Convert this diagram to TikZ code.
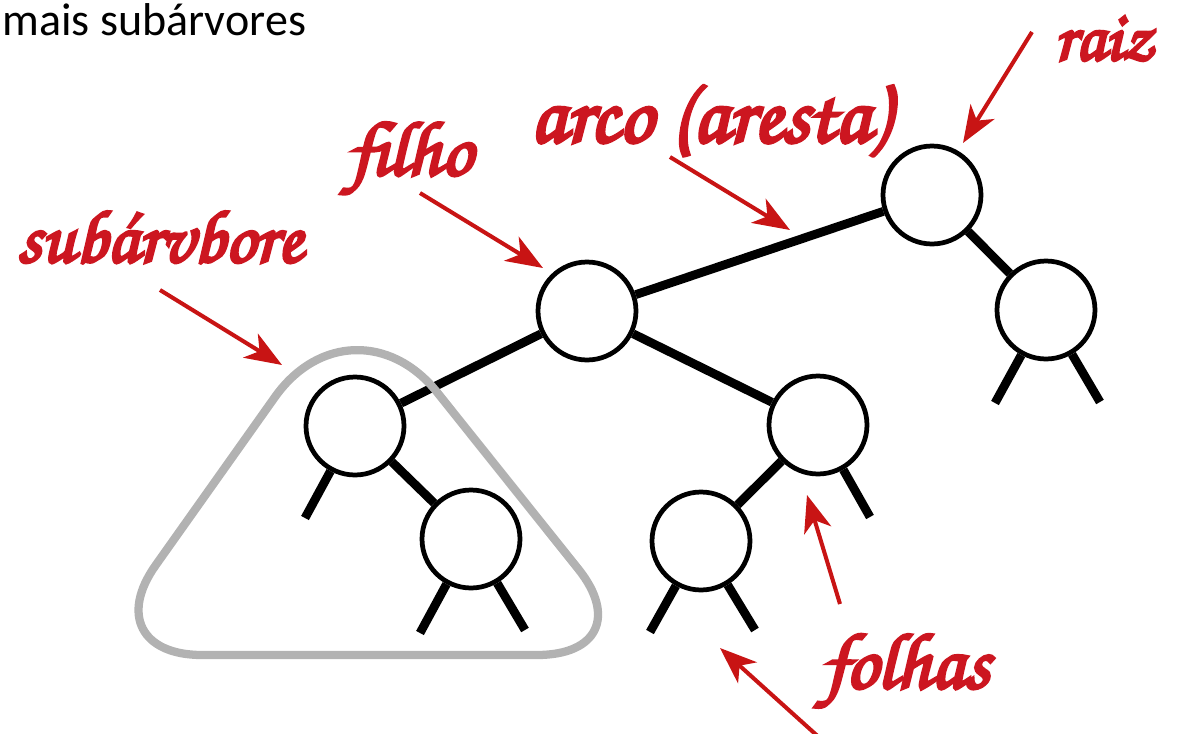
\documentclass[tikz,border=0pt]{standalone}
\usepackage{fontspec}
\usetikzlibrary{arrows.meta}
\setmainfont{Carlito}
\newfontfamily\handfont{texgyrechorus-mediumitalic.otf}[FakeBold=4]
\definecolor{labelred}{RGB}{204,22,32}
\definecolor{arrowred}{RGB}{200,20,20}
\definecolor{hullgray}{RGB}{178,178,178}

\begin{document}
\begin{tikzpicture}[x=0.02cm,y=-0.02cm,
  vertex/.style={circle,draw=black,line width=2.7pt,fill=white,minimum size=1.96cm,inner sep=0pt},
  edge/.style={line width=5pt},
  pointer/.style={draw=arrowred,line width=2.3pt,-{Stealth[length=21pt,width=16pt,inset=6pt]}},
  tag/.style={text=labelred,inner sep=0pt,anchor=base west},
]
\useasboundingbox (0,0) rectangle (1178,734);

% heading
\node[anchor=base west,inner sep=0pt,font=\fontsize{26.2}{30}\selectfont] (title) at (2,35) {mais subárvores};

% tree nodes
\node[vertex] (root) at (932,195) {};
\node[vertex] (rc)   at (1046,310) {};
\node[vertex] (lc)   at (587,311) {};
\node[vertex] (sub)  at (355,426) {};
\node[vertex] (subr) at (471,539) {};
\node[vertex] (mid)  at (818,425) {};
\node[vertex] (midl) at (701,541) {};

% loose ends of the missing subtrees
\coordinate (rcA)   at (995,403);
\coordinate (rcB)   at (1100,402);
\coordinate (midB)  at (870,517);
\coordinate (midlA) at (650,632);
\coordinate (midlB) at (755,630);
\coordinate (subA)  at (305,518);
\coordinate (subrA) at (420,633);
\coordinate (subrB) at (525,630);

% edges
\draw[edge] (root) -- (lc);
\draw[edge] (root) -- (rc);
\draw[edge] (lc) -- (sub);
\draw[edge] (lc) -- (mid);
\draw[edge] (mid) -- (midl);
\draw[edge] (sub) -- (subr);
\draw[edge] (rc) -- (rcA);
\draw[edge] (rc) -- (rcB);
\draw[edge] (mid) -- (midB);
\draw[edge] (midl) -- (midlA);
\draw[edge] (midl) -- (midlB);
\draw[edge] (sub) -- (subA);
\draw[edge] (subr) -- (subrA);
\draw[edge] (subr) -- (subrB);

% outline around the subtree
\draw[hullgray,line width=4.7pt]
  (370,655) [rounded corners=2.2cm] -- (92,655)
  [rounded corners=2.7cm] -- (353,287)
  [rounded corners=2.2cm] -- (647,655) -- cycle;

% labels
\node[tag,font=\handfont\fontsize{42.5}{46}\selectfont] (tSub) at (17,262) {subárvbore};
\node[tag,font=\handfont\fontsize{44}{48}\selectfont] (tFilho) at (348,175) {filho};
\node[tag,font=\handfont\fontsize{48}{52}\selectfont] (tArco) at (530,142) {arco (aresta)};
\node[tag,font=\handfont\fontsize{40}{44}\selectfont] (tRaiz) at (1054,60) {raiz};
\node[tag,font=\handfont\fontsize{45}{48}\selectfont] (tFolhas) at (822,688) {folhas};

% pointers
\coordinate (pSubS) at (160,290);   \coordinate (pSubT) at (282,365);
\coordinate (pFilS) at (420,193);   \coordinate (pFilT) at (543,268);
\coordinate (pArcS) at (670,157);   \coordinate (pArcT) at (790,230);
\coordinate (pRaiS) at (1032,32);   \coordinate (pRaiT) at (963,143);
\coordinate (pFoAS) at (840,604);   \coordinate (pFoAT) at (807,495);
\coordinate (pFoBS) at (822,740);   \coordinate (pFoBT) at (720,648);
\draw[pointer] (pSubS) -- (pSubT);
\draw[pointer] (pFilS) -- (pFilT);
\draw[pointer] (pArcS) -- (pArcT);
\draw[pointer] (pRaiS) -- (pRaiT);
\draw[pointer] (pFoAS) -- (pFoAT);
\draw[pointer] (pFoBS) -- (pFoBT);
\end{tikzpicture}
\end{document}
